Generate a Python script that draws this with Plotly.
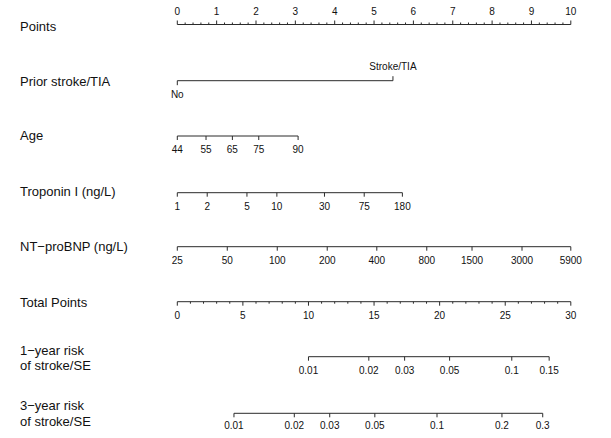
import plotly.graph_objects as go

# ---------------- data ----------------
points_ticks = list(range(0, 11))                 # Points scale 0..10
points_minor_step = 0.2

prior_labels = ["No", "Stroke/TIA"]
prior_points = [0.0, 5.48]

age_labels = ["44", "55", "65", "75", "90"]
age_points = [0.0, 0.73, 1.40, 2.07, 3.07]

trop_labels = ["1", "2", "5", "10", "30", "75", "180"]
trop_points = [0.0, 0.76, 1.77, 2.53, 3.74, 4.75, 5.72]

bnp_labels = ["25", "50", "100", "200", "400", "800", "1500", "3000", "5900"]
bnp_points = [0.0, 1.27, 2.54, 3.81, 5.07, 6.34, 7.49, 8.76, 10.0]

total_ticks = list(range(0, 31, 5))               # Total points 0..30
total_minor_step = 1

risk1_labels = ["0.01", "0.02", "0.03", "0.05", "0.1", "0.15"]
risk1_total = [10.0, 14.6, 17.33, 20.76, 25.5, 28.35]

risk3_labels = ["0.01", "0.02", "0.03", "0.05", "0.1", "0.2", "0.3"]
risk3_total = [4.32, 8.92, 11.62, 15.06, 19.8, 24.75, 27.86]

# ---------------- layout constants ----------------
W, H = 611, 438
X0_PX = 177.3          # pixel of 0 points
PX_PER_PT = 39.35      # pixels per point
LINE_COLOR = "#2b2b2b"
FONT = "Liberation Sans, Arial, Helvetica, sans-serif"
TICK_FS = 10
LABEL_FS = 13

xr = [-X0_PX / PX_PER_PT, (W - X0_PX) / PX_PER_PT]

fig = go.Figure()


def line_trace(xs, y, axis):
    return go.Scatter(x=[min(xs), max(xs)], y=[y, y], mode="lines", xaxis=axis, yaxis="y",
                      line=dict(color=LINE_COLOR, width=1), hoverinfo="skip", showlegend=False)


def seg_trace(xs, y0s, y1s, axis):
    X, Y = [], []
    for x, a, b in zip(xs, y0s, y1s):
        X += [x, x, None]
        Y += [a, b, None]
    return go.Scatter(x=X, y=Y, mode="lines", xaxis=axis, yaxis="y",
                      line=dict(color=LINE_COLOR, width=1),
                      hoverinfo="skip", showlegend=False)


def text_trace(xs, ys, labels, axis, size=TICK_FS):
    return go.Scatter(x=xs, y=ys, text=labels, mode="text", xaxis=axis, yaxis="y",
                      textposition="middle center",
                      textfont=dict(family=FONT, size=size, color="#111111"),
                      hoverinfo="skip", showlegend=False, cliponaxis=False)


def add_row(xs, labels, y, axis, tick_len=4, label_dy=14.5):
    fig.add_trace(line_trace(xs, y, axis))
    fig.add_trace(seg_trace(xs, [y] * len(xs), [y + tick_len] * len(xs), axis))
    fig.add_trace(text_trace(xs, [y + label_dy] * len(xs), labels, axis))


# Points row (ticks up, labels above)
y_pts = 24.5
fig.add_trace(line_trace(points_ticks, y_pts, "x"))
fig.add_trace(seg_trace(points_ticks, [y_pts] * len(points_ticks), [y_pts - 4] * len(points_ticks), "x"))
n_minor = int(round((points_ticks[-1] - points_ticks[0]) / points_minor_step))
minor = [points_ticks[0] + i * points_minor_step for i in range(n_minor + 1)]
minor = [m for m in minor if abs(m - round(m)) > 1e-6]
fig.add_trace(seg_trace(minor, [y_pts] * len(minor), [y_pts - 2] * len(minor), "x"))
fig.add_trace(text_trace(points_ticks, [y_pts - 12.5] * len(points_ticks),
                         [str(v) for v in points_ticks], "x"))

# Prior stroke/TIA (alternating)
y_pr = 80.7
fig.add_trace(line_trace(prior_points, y_pr, "x"))
fig.add_trace(seg_trace(prior_points, [y_pr, y_pr], [y_pr + 4.5, y_pr - 4.5], "x"))
fig.add_trace(text_trace(prior_points, [y_pr + 15, y_pr - 13.5], prior_labels, "x"))

# Continuous rows on Points scale
add_row(age_points, age_labels, 136.0, "x")
add_row(trop_points, trop_labels, 192.7, "x")
add_row(bnp_points, bnp_labels, 246.7, "x")

# Total points row (ticks down, minor ticks)
y_tot = 301.7
fig.add_trace(line_trace(total_ticks, y_tot, "x2"))
fig.add_trace(seg_trace(total_ticks, [y_tot] * len(total_ticks), [y_tot + 4] * len(total_ticks), "x2"))
tminor = [v for v in range(total_ticks[0], total_ticks[-1] + 1, total_minor_step) if v not in total_ticks]
fig.add_trace(seg_trace(tminor, [y_tot] * len(tminor), [y_tot + 2] * len(tminor), "x2"))
fig.add_trace(text_trace(total_ticks, [y_tot + 15] * len(total_ticks),
                         [str(v) for v in total_ticks], "x2"))

# Risk rows on Total points scale
add_row(risk1_total, risk1_labels, 356.7, "x2", label_dy=15)
add_row(risk3_total, risk3_labels, 413.3, "x2", label_dy=13)

# Left-hand variable names
left_labels = [
    ("Points", 26),
    ("Prior stroke/TIA", 81),
    ("Age", 135),
    ("Troponin I (ng/L)", 191),
    ("NT\u2212proBNP (ng/L)", 246.5),
    ("Total Points", 302.5),
    ("1\u2212year risk", 350),
    ("of stroke/SE", 365.5),
    ("3\u2212year risk", 405.5),
    ("of stroke/SE", 421),
]
for txt, yy in left_labels:
    fig.add_annotation(x=18 / W, xref="paper", y=yy, yref="y", text=txt, showarrow=False,
                       xanchor="left", yanchor="middle",
                       font=dict(family=FONT, size=LABEL_FS, color="#111111"))

axis_off = dict(visible=False, showgrid=False, zeroline=False, fixedrange=True)
fig.update_layout(
    width=W, height=H,
    margin=dict(l=0, r=0, t=0, b=0),
    paper_bgcolor="white", plot_bgcolor="white",
    xaxis=dict(range=xr, domain=[0, 1], **axis_off),
    xaxis2=dict(range=[xr[0] * 3, xr[1] * 3], overlaying="x", domain=[0, 1], **axis_off),
    yaxis=dict(range=[H, 0], domain=[0, 1], **axis_off),
    showlegend=False,
)

fig.write_html("out.html")
